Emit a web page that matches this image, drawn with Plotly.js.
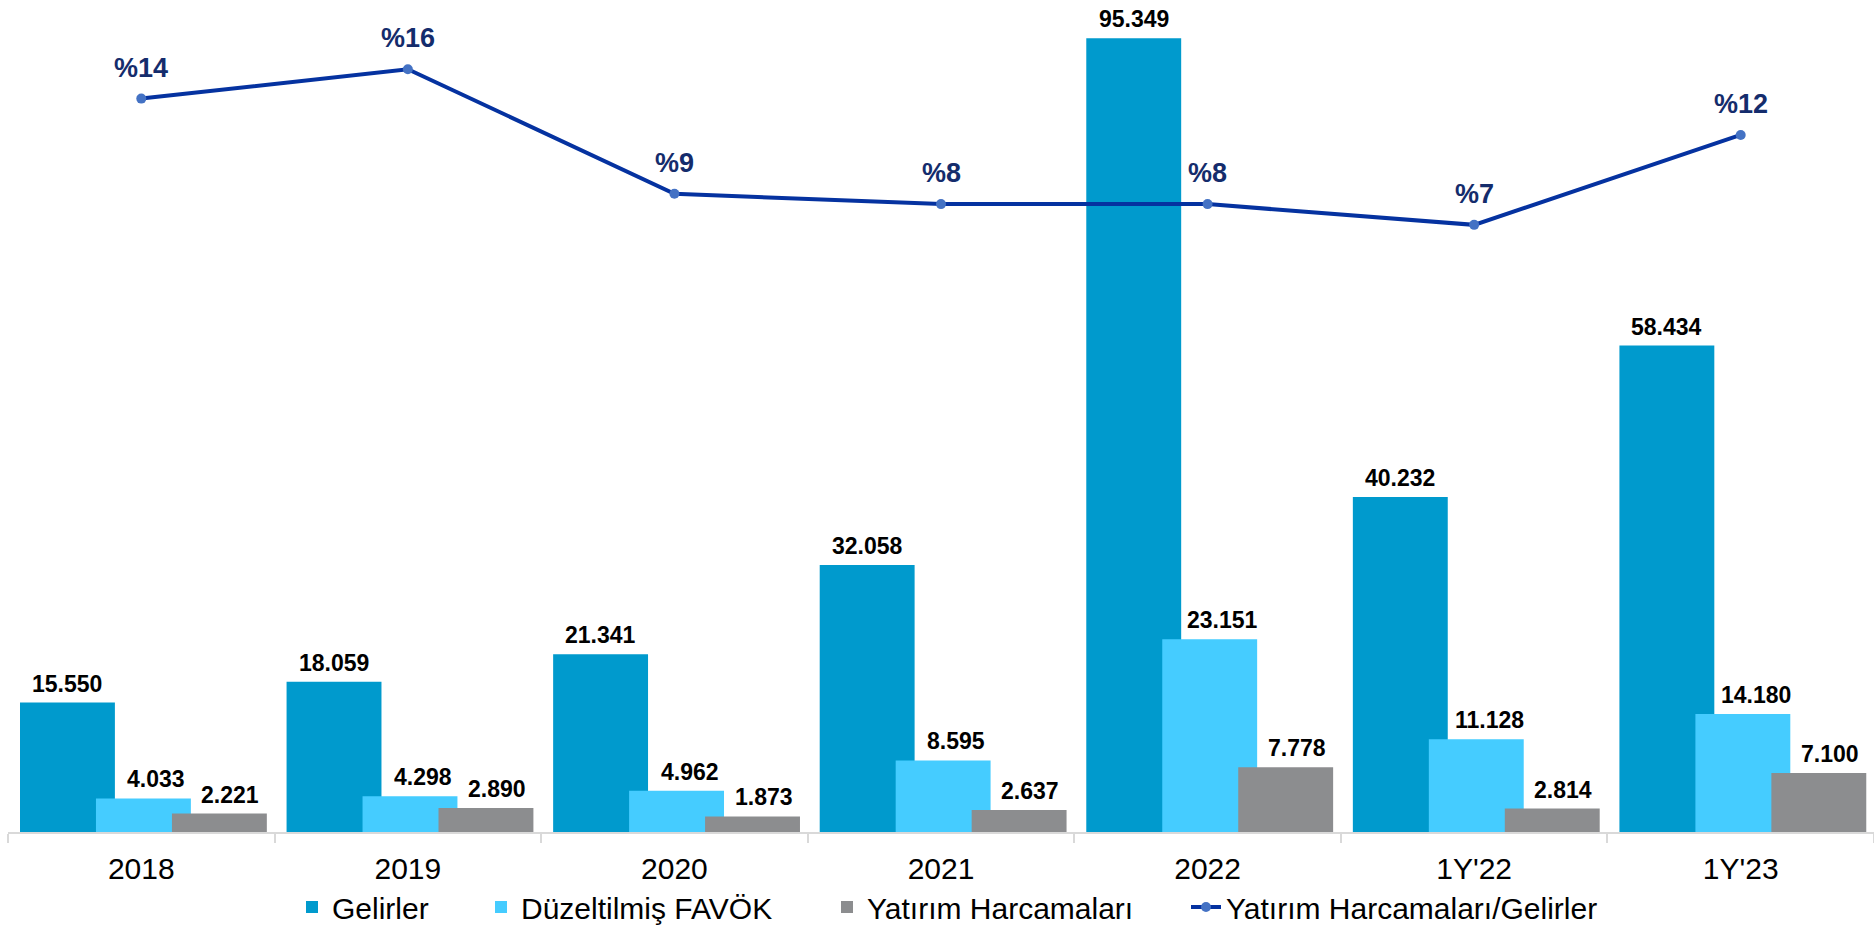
<!DOCTYPE html>
<html>
<head>
<meta charset="utf-8">
<script src="https://cdn.plot.ly/plotly-3.0.1.min.js"></script>
<style>html,body{margin:0;padding:0;background:#fff;}#chart{width:1874px;height:925px;}</style>
</head>
<body>
<div id="chart"></div>
<script>
var categories = ['2018', '2019', '2020', '2021', '2022', "1Y'22", "1Y'23"];
var gelirler = [15550, 18059, 21341, 32058, 95349, 40232, 58434];
var favok = [4033, 4298, 4962, 8595, 23151, 11128, 14180];
var yatirim = [2221, 2890, 1873, 2637, 7778, 2814, 7100];
var oran = [14.3, 16.0, 8.8, 8.2, 8.2, 7.0, 12.2];

var FONT = 'Liberation Sans, Arial, sans-serif';
var W = 1874, H = 925;
var M = {l: 8, r: 0, t: 0, b: 93};
var catPx = (W - M.l - M.r) / categories.length;
var barW = 0.356;

function fmt(v) { return String(v).replace(/\B(?=(\d{3})+(?!\d))/g, '.'); }

var series = [
  {name: 'Gelirler', vals: gelirler, color: '#009ACD', offset: -0.455, lx: 0, legend: 'legend', lxPx: 292},
  {name: 'Düzeltilmiş FAVÖK', vals: favok, color: '#45CCFF', offset: -0.170, lx: 13, legend: 'legend2', lxPx: 481},
  {name: 'Yatırım Harcamaları', vals: yatirim, color: '#8C8D8F', offset: 0.115, lx: 11, legend: 'legend3', lxPx: 827}
];

var traces = [];
var annotations = [];
series.forEach(function (s) {
  traces.push({
    type: 'bar', name: s.name, x: categories, y: s.vals,
    marker: {color: s.color, line: {width: 0}},
    width: barW, offset: s.offset, legend: s.legend, hoverinfo: 'skip'
  });
  var cx = (s.offset + barW / 2) * catPx + s.lx;
  s.vals.forEach(function (v, i) {
    annotations.push({
      x: i, y: v, xref: 'x', yref: 'y', showarrow: false,
      xanchor: 'center', yanchor: 'bottom', xshift: cx, yshift: 4,
      text: fmt(v),
      font: {family: FONT, size: 23, color: '#000000', weight: 700}
    });
  });
});

traces.push({
  type: 'scatter', mode: 'lines+markers', name: 'Yatırım Harcamaları/Gelirler',
  x: categories, y: oran, yaxis: 'y2', legend: 'legend4',
  line: {color: '#0532A0', width: 4},
  marker: {color: '#4472C4', size: 10},
  cliponaxis: false, hoverinfo: 'skip'
});
oran.forEach(function (v, i) {
  annotations.push({
    x: i, y: v, xref: 'x', yref: 'y2', showarrow: false,
    xanchor: 'center', yanchor: 'bottom', yshift: 14,
    text: '%' + Math.round(v),
    font: {family: FONT, size: 27, color: '#142C6C', weight: 700}
  });
});

var plotH = H - M.t - M.b;
var legY = -(907 - plotH) / plotH;
function legendAt(px) {
  return {
    orientation: 'h', x: (px - M.l) / (W - M.l - M.r), xanchor: 'left', y: legY, yanchor: 'middle',
    font: {family: FONT, size: 30, color: '#000000'}, bgcolor: 'rgba(0,0,0,0)', itemwidth: 30
  };
}

var layout = {
  width: W, height: H,
  margin: {l: M.l, r: M.r, t: M.t, b: M.b, pad: 0, autoexpand: false},
  paper_bgcolor: '#ffffff', plot_bgcolor: '#ffffff',
  barmode: 'overlay',
  showlegend: true,
  font: {family: FONT, color: '#000000'},
  xaxis: {
    type: 'category', range: [-0.5, categories.length - 0.5], autorange: false,
    showline: true, linecolor: '#D9D9D9', linewidth: 2,
    ticks: 'outside', tickson: 'boundaries', ticklen: 9, tickcolor: '#D9D9D9', tickwidth: 2,
    tickfont: {family: FONT, size: 30, color: '#000000'},
    ticklabelstandoff: 9,
    showgrid: false, zeroline: false, fixedrange: true
  },
  yaxis: {range: [0, 99940], visible: false, showgrid: false, zeroline: false, fixedrange: true},
  yaxis2: {range: [-28.1, 20], overlaying: 'y', visible: false, showgrid: false, zeroline: false, fixedrange: true},
  legend: legendAt(series[0].lxPx),
  legend2: legendAt(series[1].lxPx),
  legend3: legendAt(series[2].lxPx),
  legend4: legendAt(1186),
  annotations: annotations
};

Plotly.newPlot('chart', traces, layout, {staticPlot: true, displayModeBar: false});
</script>
</body>
</html>
